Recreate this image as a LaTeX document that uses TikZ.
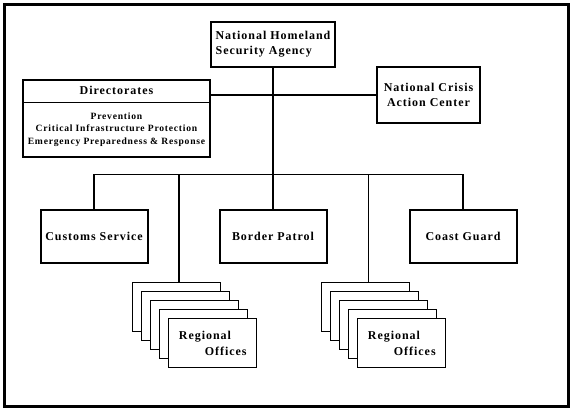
\documentclass[tikz,border=0pt]{standalone}
\usepackage{fontspec}
\setmainfont{Liberation Serif}[LetterSpace=8]
\usetikzlibrary{positioning}

\begin{document}
\begin{tikzpicture}[x=1pt, y=-1pt,
  box/.style={draw, line width=2pt, fill=white, inner sep=0pt, align=center,
              font=\bfseries\fontsize{12}{15}\selectfont},
  unit/.style={box, minimum width=107pt, minimum height=53pt},
  office/.style={draw, line width=1pt, fill=white, inner sep=0pt,
                 minimum width=88pt, minimum height=49pt, align=left,
                 font=\bfseries\fontsize{12}{16}\selectfont},
  link/.style={line width=2pt},
  thinlink/.style={line width=1pt}]
  % Frame
  \useasboundingbox (0,0) rectangle (573,410);
  \draw[line width=3pt] (4.5,4.5) rectangle (568.5,406.5);

  % Top level
  \node[box, minimum width=124pt, minimum height=45pt, align=left] (nhsa) at (273,44.5)
    {National Homeland\\Security Agency};
  \node[box, minimum width=103pt, minimum height=56pt] (ncac) at (428.5,95)
    {National Crisis\\Action Center};

  % Directorates
  \node[box, minimum width=187pt, minimum height=77pt] (dir) at (116.5,118.5) {};
  \node[anchor=north, inner sep=0pt, minimum width=187pt, minimum height=23pt,
        font=\bfseries\fontsize{12}{15}\selectfont] (dirhead) at (dir.north) {Directorates};
  \draw[thinlink] (dirhead.south west) -- (dirhead.south east);
  \node[below=0pt of dirhead, inner sep=0pt, minimum height=54pt, align=center,
        font=\bfseries\fontsize{9.6}{12.6}\selectfont] (dirbody)
    {Prevention\\Critical Infrastructure Protection\\Emergency Preparedness \& Response};

  % Services
  \node[unit] (cs) at (94,236.5) {Customs Service};
  \node[unit] (bp) at (273,236.5) {Border Patrol};
  \node[unit] (cg) at (463,236.5) {Coast Guard};

  % Regional offices
  \foreach \i in {0,...,3} {
    \node[office] (rl\i) at (176+9.2*\i, 306.5+9.1*\i) {};
    \node[office] (rr\i) at (365+9.2*\i, 306.5+9.1*\i) {};
  }
  \node[office] (rl4) at (212.8,342.9) {Regional\\\hspace*{26pt}Offices};
  \node[office] (rr4) at (401.8,342.9) {Regional\\\hspace*{26pt}Offices};

  % Connectors
  \coordinate (bus) at (273,174);
  \draw[link] (nhsa.south) -- (bp.north);
  \draw[link] (ncac.west) -- (ncac.west -| dir.east);
  \draw[thinlink] (cs.north |- bus) -- (cg.north |- bus);
  \draw[link] (cs.north) -- (cs.north |- bus);
  \draw[link] (cg.north) -- (cg.north |- bus);
  \draw[link] ([xshift=3pt]rl0.north) -- ([xshift=3pt]rl0.north |- bus);
  \draw[thinlink] ([xshift=3pt]rr0.north) -- ([xshift=3pt]rr0.north |- bus);
\end{tikzpicture}
\end{document}
